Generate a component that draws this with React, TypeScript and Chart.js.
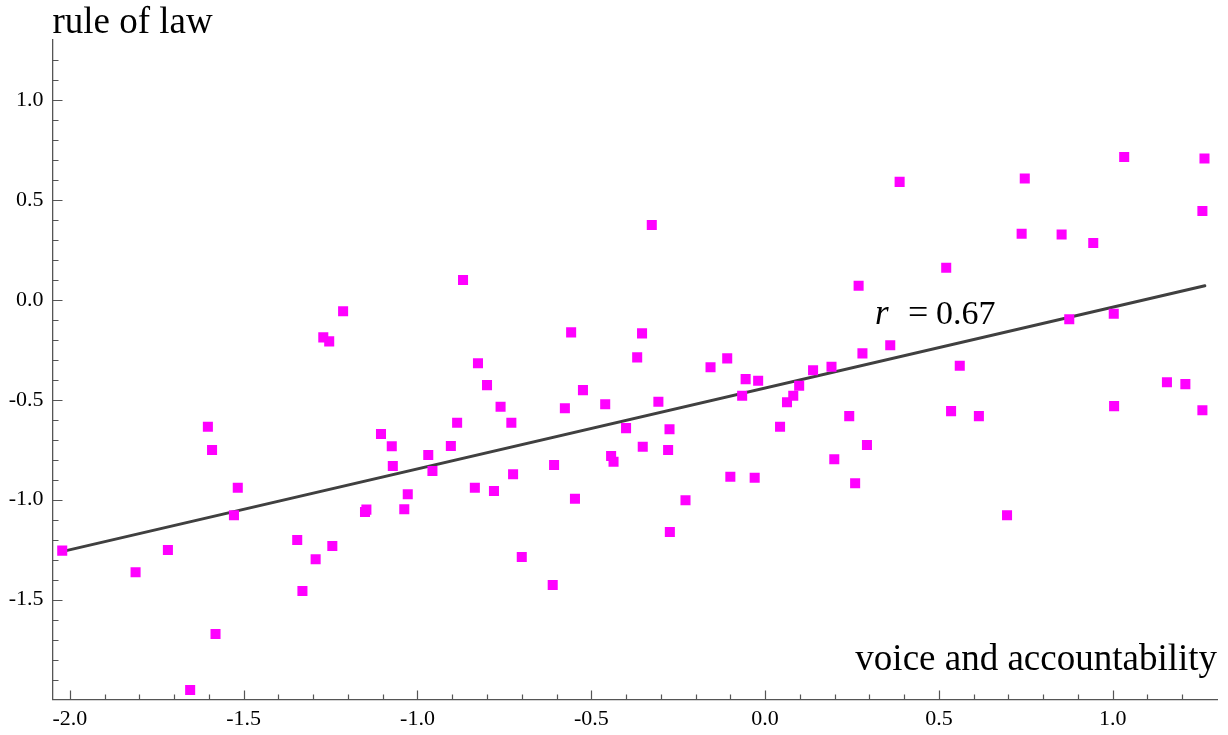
import { useEffect, useRef } from 'react';
import { Chart, registerables } from 'chart.js';

Chart.register(...registerables);

// voice and accountability (x) for each country
const voice = [
  -2.022, -1.811, -1.718, -1.654, -1.603, -1.591, -1.581, -1.528, -1.517, -1.346,
  -1.331, -1.293, -1.271, -1.254, -1.245, -1.214, -1.151, -1.147, -1.105, -1.074,
  -1.071, -1.038, -1.028, -0.969, -0.957, -0.904, -0.886, -0.869, -0.835, -0.826,
  -0.8, -0.78, -0.761, -0.73, -0.725, -0.7, -0.611, -0.607, -0.576, -0.558,
  -0.547, -0.524, -0.46, -0.443, -0.436, -0.4, -0.368, -0.354, -0.352, -0.326,
  -0.307, -0.279, -0.275, -0.274, -0.229, -0.157, -0.109, -0.1, -0.066, -0.056,
  -0.03, -0.02, 0.043, 0.063, 0.081, 0.098, 0.138, 0.191, 0.199, 0.242,
  0.259, 0.269, 0.28, 0.293, 0.36, 0.387, 0.521, 0.535, 0.56, 0.615,
  0.696, 0.738, 0.747, 0.853, 0.875, 0.944, 1.003, 1.004, 1.033, 1.156,
  1.209, 1.264, 1.258, 1.258,
];

// rule of law (y) for each country
const law = [
  -1.255, -1.363, -1.252, -1.952, -0.635, -0.752, -1.672, -1.078, -0.94, -1.202,
  -1.457, -1.298, -0.188, -0.208, -1.232, -0.057, -1.062, -1.05, -0.672, -0.733,
  -0.832, -1.048, -0.973, -0.777, -0.857, -0.732, -0.615, 0.099, -0.94, -0.317,
  -0.427, -0.957, -0.535, -0.615, -0.873, -1.287, -1.427, -0.827, -0.543, -0.163,
  -0.995, -0.452, -0.523, -0.782, -0.81, -0.642, -0.288, -0.168, -0.735, 0.374,
  -0.51, -0.752, -0.648, -1.162, -1.003, -0.338, -0.293, -0.885, -0.48, -0.397,
  -0.89, -0.405, -0.635, -0.513, -0.48, -0.43, -0.352, -0.335, -0.798, -0.582,
  -0.918, 0.07, -0.268, -0.727, -0.227, 0.59, 0.16, -0.557, -0.33, -0.582,
  -1.078, 0.33, 0.607, 0.327, -0.097, 0.284, -0.07, -0.532, 0.715, -0.413,
  -0.422, 0.707, 0.444, -0.553,
];

// regression line end points
const fitX = [-2.02, 1.265];
const fitY = [-1.259, 0.07];

const xRange = [-2.05, 1.3];
const yRange = [-2.0, 1.3];
const xMajorTicks = [-2.0, -1.5, -1.0, -0.5, 0.0, 0.5, 1.0];
const yMajorTicks = [-1.5, -1.0, -0.5, 0.0, 0.5, 1.0];
const minorStep = 0.1;

const xTitle = 'voice and accountability';
const yTitle = 'rule of law';
const rValue = '0.67';
const rLabelAt = { x: 0.316, y: -0.123 };

const SERIF = '"Liberation Serif", "Times New Roman", serif';
const AXIS_COLOR = '#555555';

const axisTicksPlugin = {
  id: 'axisTicks',
  beforeDatasetsDraw(chart: any) {
    const { ctx, chartArea: a, scales } = chart;
    const x = scales.x;
    const y = scales.y;
    ctx.save();
    ctx.strokeStyle = AXIS_COLOR;
    ctx.lineWidth = 1.2;
    ctx.beginPath();
    const isMajor = (list: number[], v: number) => list.some((m) => Math.abs(m - v) < 1e-6);
    for (let k = Math.ceil(x.min / minorStep - 1e-6); k <= Math.floor(x.max / minorStep + 1e-6); k++) {
      const v = +(k * minorStep).toFixed(6);
      if (Math.abs(v - x.min) < 0.005 || Math.abs(v - x.max) < 0.005) continue;
      const px = Math.round(x.getPixelForValue(v)) + 0.5;
      const len = isMajor(xMajorTicks, v) ? 9 : 5;
      ctx.moveTo(px, a.bottom);
      ctx.lineTo(px, a.bottom - len);
    }
    for (let k = Math.ceil(y.min / minorStep - 1e-6); k <= Math.floor(y.max / minorStep + 1e-6); k++) {
      const v = +(k * minorStep).toFixed(6);
      if (Math.abs(v - y.min) < 0.005 || Math.abs(v - y.max) < 0.005) continue;
      const py = Math.round(y.getPixelForValue(v)) + 0.5;
      const len = isMajor(yMajorTicks, v) ? 10 : 6;
      ctx.moveTo(a.left, py);
      ctx.lineTo(a.left + len, py);
    }
    ctx.stroke();
    ctx.restore();
  },
};

const textPlugin = {
  id: 'textLabels',
  afterDraw(chart: any) {
    const { ctx, chartArea: a, scales } = chart;
    ctx.save();
    ctx.fillStyle = '#000';
    ctx.textBaseline = 'alphabetic';
    ctx.font = `37px ${SERIF}`;
    ctx.textAlign = 'left';
    ctx.fillText(yTitle, a.left, a.top - 7);
    ctx.textAlign = 'right';
    ctx.fillText(xTitle, a.right, a.bottom - 30);

    const x0 = scales.x.getPixelForValue(rLabelAt.x);
    const y0 = scales.y.getPixelForValue(rLabelAt.y);
    ctx.textAlign = 'left';
    ctx.font = `italic 35px ${SERIF}`;
    ctx.fillText('r', x0, y0);
    ctx.font = `36px ${SERIF}`;
    ctx.fillText('=', x0 + 33, y0);
    ctx.font = `34px ${SERIF}`;
    ctx.fillText(rValue, x0 + 61, y0);
    ctx.restore();
  },
};

export default function App() {
  const ref = useRef<HTMLCanvasElement | null>(null);

  useEffect(() => {
    if (!ref.current) return;
    const tickFont = { family: SERIF, size: 22 };
    const chart = new Chart(ref.current, {
      type: 'scatter',
      data: {
        datasets: [
          {
            data: voice.map((v, i) => ({ x: v, y: law[i] })),
            pointStyle: 'rect',
            pointRadius: 7.1,
            pointHoverRadius: 7.1,
            backgroundColor: '#ff00ff',
            borderColor: '#ff00ff',
            borderWidth: 0,
          },
          {
            type: 'line',
            data: fitX.map((v, i) => ({ x: v, y: fitY[i] })),
            showLine: true,
            borderColor: '#404040',
            borderWidth: 3,
            borderCapStyle: 'round',
            pointRadius: 0,
            fill: false,
          } as any,
        ],
      },
      options: {
        animation: false,
        responsive: true,
        maintainAspectRatio: false,
        events: [],
        layout: { padding: { top: 40, right: 11, left: 0, bottom: 0 } },
        plugins: { legend: { display: false }, tooltip: { enabled: false }, title: { display: false } },
        scales: {
          x: {
            type: 'linear',
            min: xRange[0],
            max: xRange[1],
            afterBuildTicks: (s: any) => {
              s.ticks = xMajorTicks.map((v) => ({ value: v }));
            },
            afterFit: (s: any) => {
              s.height = 35.5;
            },
            grid: { display: true, drawOnChartArea: false, drawTicks: false },
            border: { display: true, color: AXIS_COLOR, width: 1.3 },
            ticks: {
              font: tickFont,
              color: '#000',
              padding: 7,
              maxRotation: 0,
              autoSkip: false,
              callback: (v: any) => Number(v).toFixed(1),
            },
          },
          y: {
            type: 'linear',
            min: yRange[0],
            max: yRange[1],
            afterBuildTicks: (s: any) => {
              s.ticks = yMajorTicks.map((v) => ({ value: v }));
            },
            afterFit: (s: any) => {
              s.width = 52.5;
            },
            grid: { display: true, drawOnChartArea: false, drawTicks: false },
            border: { display: true, color: AXIS_COLOR, width: 1.3 },
            ticks: {
              font: tickFont,
              color: '#000',
              padding: 9,
              autoSkip: false,
              callback: (v: any) => Number(v).toFixed(1),
            },
          },
        },
      },
      plugins: [axisTicksPlugin, textPlugin],
    });
    return () => chart.destroy();
  }, []);

  return (
    <div style={{ position: 'absolute', left: 0, top: 0, width: 1228, height: 735, background: '#fff' }}>
      <canvas ref={ref} />
    </div>
  );
}
